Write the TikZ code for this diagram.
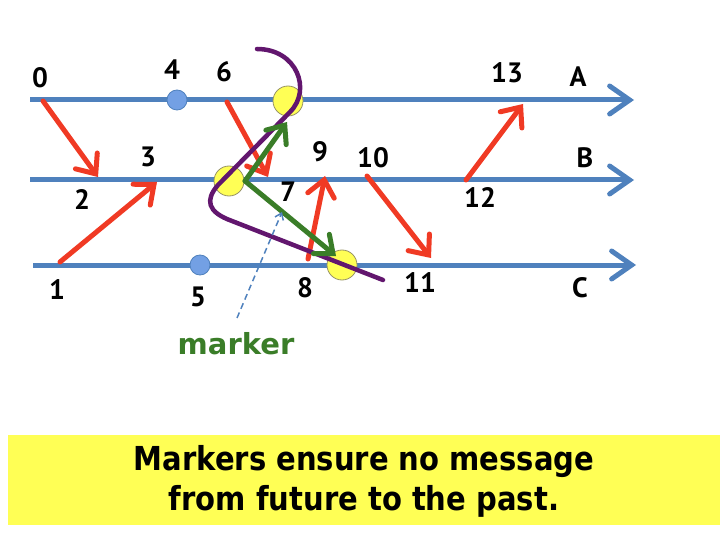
\documentclass[tikz,border=0pt]{standalone}
\usepackage{fontspec}
\setmainfont{PT Sans}
\newfontfamily\widefont{DejaVu Sans}
\newfontfamily\boxfont[FakeStretch=0.88]{DejaVu Sans}
\usetikzlibrary{arrows.meta}
\definecolor{lineblue}{RGB}{79,129,189}
\definecolor{msgred}{RGB}{240,58,36}
\definecolor{mkgreen}{RGB}{58,125,40}
\definecolor{cutpurple}{RGB}{98,22,110}
\definecolor{dotblue}{RGB}{115,160,228}
\definecolor{circyellow}{RGB}{255,255,85}
\definecolor{boxyellow}{RGB}{255,255,85}
\tikzset{
  timeline/.style={draw=lineblue, line width=5pt, -{Straight Barb[length=20pt,width=28pt,line cap=round]}},
  msg/.style={draw=msgred, line width=5pt, line cap=round, -{Straight Barb[length=16pt,width=27pt,line cap=round]}},
  mkmsg/.style={draw=mkgreen, line width=5pt, line cap=round, -{Straight Barb[length=15pt,width=25pt,line cap=round]}},
  lbl/.style={font=\fontsize{28}{28}\selectfont\bfseries, text=black, inner sep=0pt},
  evdot/.style={circle, fill=dotblue, draw=lineblue, line width=0.8pt, minimum size=20pt, inner sep=0pt},
  snap/.style={circle, fill=circyellow, draw=black!45!yellow!60!gray, line width=0.8pt, minimum size=30pt, inner sep=0pt},
}
\begin{document}
\begin{tikzpicture}[x=1pt,y=-1pt]
\useasboundingbox (0,0) rectangle (720,540);
% time lines
\coordinate (As) at (30,100); \coordinate (Ae) at (634,100);
\coordinate (Bs) at (30,180); \coordinate (Be) at (634,180);
\coordinate (Cs) at (33,265); \coordinate (Ce) at (636,265);
\draw[timeline] (As) -- (Ae);
\draw[timeline] (Bs) -- (Be);
\draw[timeline] (Cs) -- (Ce);
% event dots
\node[evdot] (d4) at (177,100) {};
\node[evdot] (d5) at (200,265) {};
% snapshot circles
\node[snap] (sA) at (288,101) {};
\node[snap] (sB) at (229,181) {};
\node[snap] (sC) at (342,265) {};
% event points
\coordinate (e0) at (43,101);
\coordinate (e2) at (98,177);
\coordinate (e1) at (60,262);
\coordinate (e3) at (157,182);
\coordinate (e6) at (227,102);
\coordinate (e7) at (268,177);
\coordinate (e8) at (308,259);
\coordinate (e9) at (325,176);
\coordinate (e10) at (367,176);
\coordinate (e11) at (431,258);
\coordinate (e12) at (466,180);
\coordinate (e13) at (523,104);
\coordinate (gB) at (245,181);
\coordinate (gA) at (287,122);
\coordinate (gC) at (336,256);
% messages
\draw[msg] (e0) -- (e2);
\draw[msg] (e1) -- (e3);
\draw[msg] (e6) -- (e7);
\draw[msg] (e8) -- (e9);
\draw[msg] (e10) -- (e11);
\draw[msg] (e12) -- (e13);
% cut
\coordinate (k0) at (257,49);
\coordinate (k1) at (290,112);
\coordinate (k2) at (218,185);
\coordinate (k3) at (232,221);
\coordinate (k4) at (383,280);
\draw[cutpurple, line width=4.5pt, line cap=round]
  (k0) .. controls (297,49) and (312,90) .. (k1) -- (k2)
  .. controls (205,200) and (207,212) .. (k3) -- (k4);
% marker messages
\draw[mkmsg] (gB) -- (gA);
\draw[mkmsg] (gB) -- (gC);
% labels
\node[lbl] (l0) at (40,78) {0};
\node[lbl] (l1) at (57,290) {1};
\node[lbl] (l2) at (82,200) {2};
\node[lbl] (l3) at (148,157) {3};
\node[lbl] (l4) at (172,70) {4};
\node[lbl] (l5) at (198,297) {5};
\node[lbl] (l6) at (224,72) {6};
\node[lbl] (l7) at (288,192) {7};
\node[lbl] (l8) at (305,288) {8};
\node[lbl] (l9) at (320,152) {9};
\node[lbl] (l10) at (373,158) {10};
\node[lbl] (l11) at (420,283) {11};
\node[lbl] (l12) at (480,198) {12};
\node[lbl] (l13) at (507,73) {13};
\node[lbl] (lA) at (578,77) {A};
\node[lbl] (lB) at (585,158) {B};
\node[lbl] (lC) at (580,288) {C};
% marker pointer
\node[font=\widefont\fontsize{29}{29}\selectfont\bfseries, text=mkgreen, inner sep=0pt] (mk) at (236,344) {marker};
\coordinate (mkfrom) at (237,318);
\coordinate (mkto) at (282,212);
\draw[lineblue, line width=1.5pt, dash pattern=on 6pt off 4pt, -{Straight Barb[length=6pt,width=9pt]}] (mkfrom) -- (mkto);
% bottom box
\fill[boxyellow] (8,435) rectangle (720,525);
\node[align=center, font=\boxfont\fontsize{33}{40}\selectfont\bfseries, inner sep=0pt] (msgtext) at (364,481)
  {Markers ensure no message\\from future to the past.};
\end{tikzpicture}
\end{document}
